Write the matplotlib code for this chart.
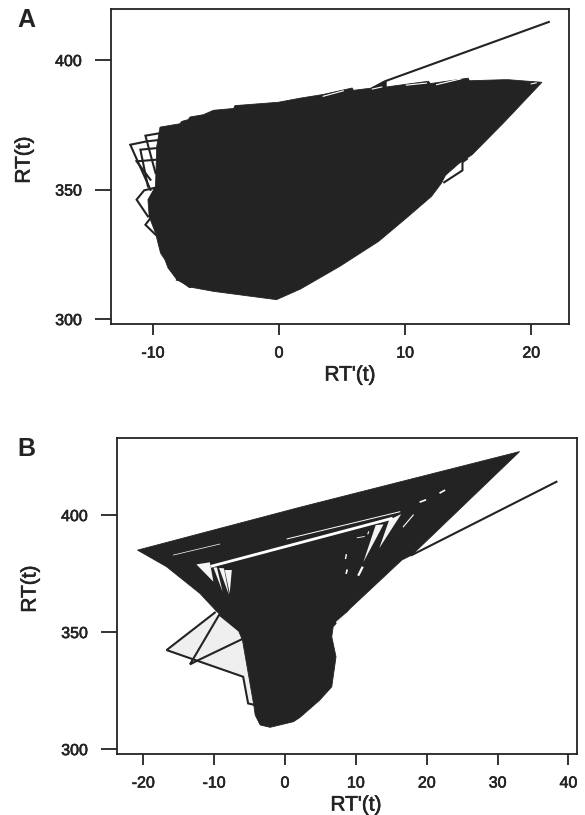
import matplotlib
matplotlib.use('Agg')
import matplotlib.pyplot as plt
import matplotlib.patheffects as pe

plt.rcParams['font.family'] = ['Liberation Sans', 'DejaVu Sans']
plt.rcParams['axes.unicode_minus'] = False

ink = '#232323'

# panel A, outline of the dense trajectory
a_x = [-0.2, -5.2, -7.1, -8.1, -8.8, -9.05, -9.4, -9.8, -10.3, -10.4, -9.8, -9.7, -9.44, -7.86, -7.72, -7.2, -7.06,
       -6.0, -5.2, -3.6, -3.5, -0.05, 1.7, 3.5, 5.8, 5.9, 7.4, 8.5, 8.5, 11.85, 12.0, 15.0, 15.1, 17.8, 18.2, 20.85,
       17.8, 15.3, 14.3, 13.2, 12.9, 12.1, 10.1, 7.9, 4.8, 1.7]
a_y = [307.5, 310.7, 312.4, 315.2, 319.7, 322.9, 325.5, 333.2, 339.6, 346.1, 351.2, 366.7, 374.1, 375.4, 376.3,
       377.0, 378.0, 378.9, 380.6, 381.3, 382.4, 383.7, 385.3, 386.7, 389.2, 388.3, 389.2, 391.8, 389.6, 391.8,
       390.9, 393.0, 392.0, 392.4, 392.4, 391.4, 375.7, 363.4, 360.2, 355.5, 352.6, 347.4, 339.0, 330.0, 320.3,
       311.6]

# panel A, loops left outside the dense part
a_loops = [
    ([21.4, 8.4, 7.4], [414.7, 391.8, 389.2]),
    ([14.9, 14.55, 14.55, 13.1], [361.8, 360.6, 357.4, 352.8]),
    ([-9.4, -10.5, -11.8, -10.2], [369.2, 368.6, 367.3, 349.9]),
    ([-9.4, -10.6, -9.8], [371.8, 370.8, 356.4]),
    ([-9.7, -11.0, -10.4], [366.0, 365.4, 351.2]),
    ([-9.8, -11.3, -10.2], [361.5, 360.9, 353.8]),
    ([-9.4, -10.7, -11.3, -10.4, -9.6], [351.2, 349.7, 346.1, 339.6, 340.9]),
    ([-10.2, -10.6, -9.8], [339.0, 336.4, 332.6]),
    ([-8.8, -8.4, -8.1], [321.0, 319.3, 320.3]),
    ([-8.1, -7.6], [315.2, 314.9]),
    ([-7.5, -7.1, -6.3], [313.9, 312.4, 313.3]),
]

# panel A, thin gaps inside the dense part
a_gaps = [
    ([3.5, 5.1], [386.0, 388.1]),
    ([7.4, 8.15], [388.8, 389.6]),
    ([10.1, 11.7], [390.3, 391.1]),
    ([12.5, 14.4], [390.5, 392.7]),
    ([20.0, 20.4], [390.8, 391.2]),
]

# panel B, outline of the dense trajectory
b_x = [-20.8, 2.1, 33.1, 17.9, 16.5, 9.2, 6.8, 6.6, 7.2, 6.6, 4.9, 2.1, 1.2, -2.1, -3.5, -4.2, -4.4, -6.0, -6.6,
       -9.6, -12.0, -16.7]
b_y = [385.0, 403.3, 427.1, 382.9, 380.8, 360.1, 352.3, 348.0, 339.4, 326.6, 320.9, 313.5, 311.7, 309.3, 310.3,
       314.5, 318.8, 346.6, 350.9, 358.7, 366.5, 377.9]

# panel B, pale area below the dense part
b_pale_x = [-16.7, -9.9, -6.6, -6.0, -4.4, -5.2, -5.9]
b_pale_y = [342.3, 358.3, 350.9, 346.6, 318.8, 319.5, 330.9]

# panel B, loops outside the dense part
b_loops = [
    ([38.3, 17.9], [414.2, 382.9]),
    ([-4.2, -5.2, -5.9, -16.7, -9.9], [318.8, 319.5, 330.9, 342.3, 358.3]),
    ([-9.3, -13.4, -12.5, -6.1], [357.3, 336.2, 337.6, 346.9]),
    ([-9.2, -6.6], [357.3, 350.9]),
]

# panel B, open areas inside the dense part
b_holes = [
    ([-12.5, -10.6, -10.1], [378.9, 379.8, 371.5]),
    ([-10.1, -8.8, -9.6], [377.6, 367.2, 377.6]),
    ([-9.3, -7.9, -8.6], [377.4, 365.8, 377.2]),
    ([-8.5, -7.5, -7.8], [376.5, 376.5, 366.5]),
    ([12.8, 13.9, 11.05], [395.7, 396.0, 379.8]),
    ([14.7, 16.4, 13.3], [397.9, 400.4, 385.8]),
    ([7.2, 8.7, 8.5, 7.3], [354.4, 358.3, 356.6, 353.4]),
]

b_gaps = [
    ([-10.3, 15.0], [378.2, 398.5], 2.0),
    ([0.3, 16.2], [389.8, 401.4], 0.7),
    ([-15.75, -9.2], [382.9, 387.6], 0.5),
    ([16.7, 18.1], [395.0, 400.0], 0.8),
    ([21.9, 22.5], [409.5, 410.5], 1.2),
    ([19.1, 19.8], [405.6, 406.4], 1.2),
    ([10.4, 10.9], [374.5, 377.5], 1.6),
    ([8.55, 8.65], [381.5, 383.0], 1.0),
    ([8.65, 8.75], [375.2, 376.4], 1.2),
    ([10.2, 11.2], [390.3, 390.8], 0.6),
    ([11.7, 11.8], [392.0, 392.8], 0.8),
]

x_ticks_a = [-10, 0, 10, 20]
x_ticks_b = [-20, -10, 0, 10, 20, 30, 40]
y_ticks = [300, 350, 400]

heavy = [pe.withStroke(linewidth=0.45, foreground=ink)]


def make_axes(fig, left, right, top, bottom):
    ax = fig.add_axes([left / 585, 1 - bottom / 815, (right - left) / 585, (bottom - top) / 815])
    for s in ax.spines.values():
        s.set_linewidth(1.3)
        s.set_color(ink)
    ax.tick_params(axis='x', length=8, width=1.3, pad=7.5, labelsize=11.5, colors=ink)
    ax.tick_params(axis='y', length=11.5, width=1.3, pad=9.5, labelsize=11.5, colors=ink)
    ax.set_facecolor('white')
    return ax


def bold_ticks(ax):
    for t in ax.get_xticklabels() + ax.get_yticklabels():
        t.set_path_effects(heavy)


fig = plt.figure(figsize=(5.85, 8.15), dpi=100, facecolor='white')

# panel A
ax1 = make_axes(fig, 111, 569, 9, 324)
ax1.fill(a_x, a_y, color=ink, lw=0.6)
for xs, ys in a_loops:
    ax1.plot(xs, ys, color=ink, lw=1.5, solid_joinstyle='miter')
for xs, ys in a_gaps:
    ax1.plot(xs, ys, color='white', lw=0.8)
ax1.set_xlim(-13.33, 23.0)
ax1.set_ylim(298.1, 419.7)
ax1.set_xticks(x_ticks_a)
ax1.set_yticks(y_ticks)
bold_ticks(ax1)

# panel B
ax2 = make_axes(fig, 117, 577, 438, 754)
ax2.fill(b_pale_x, b_pale_y, color='#efefef', lw=0)
ax2.fill(b_x, b_y, color=ink, lw=0.6)
for xs, ys in b_holes:
    ax2.fill(xs, ys, color='#f4f4f4', lw=0)
for xs, ys in b_loops:
    ax2.plot(xs, ys, color=ink, lw=1.5, solid_joinstyle='miter')
for xs, ys, w in b_gaps:
    ax2.plot(xs, ys, color='white', lw=w)
ax2.set_xlim(-23.7, 41.2)
ax2.set_ylim(297.9, 432.9)
ax2.set_xticks(x_ticks_b)
ax2.set_yticks(y_ticks)
bold_ticks(ax2)

# labels
fig.text(350 / 585, 1 - 375 / 815, "RT'(t)", fontsize=15, color=ink, ha='center', va='center', path_effects=heavy)
fig.text(356 / 585, 1 - 805 / 815, "RT'(t)", fontsize=15, color=ink, ha='center', va='center', path_effects=heavy)
fig.text(24 / 585, 1 - 160 / 815, 'RT(t)', fontsize=15, color=ink, ha='center', va='center', rotation=90, path_effects=heavy)
fig.text(30 / 585, 1 - 589 / 815, 'RT(t)', fontsize=15, color=ink, ha='center', va='center', rotation=90, path_effects=heavy)
fig.text(26 / 585, 1 - 20 / 815, 'A', fontsize=18, fontweight='bold', color=ink, ha='center', va='center')
fig.text(26 / 585, 1 - 449 / 815, 'B', fontsize=18, fontweight='bold', color=ink, ha='center', va='center')

fig.savefig('out.png', dpi=100, facecolor='white')
